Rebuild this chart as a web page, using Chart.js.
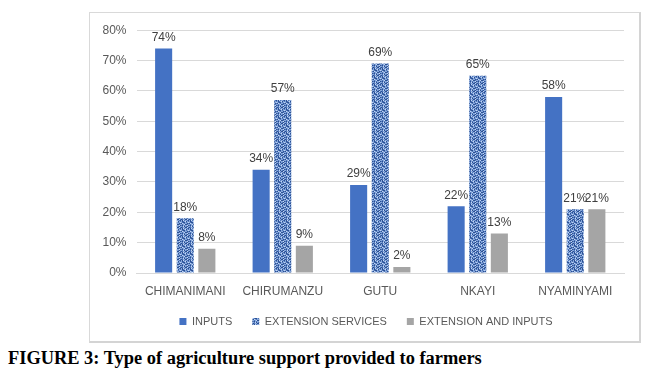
<!DOCTYPE html>
<html>
<head>
<meta charset="utf-8">
<script src="https://cdn.jsdelivr.net/npm/chart.js@4/dist/chart.umd.min.js"></script>
<style>
  html, body { margin: 0; padding: 0; background: #fff; width: 656px; height: 386px; overflow: hidden; }
  #frame { position: absolute; left: 89px; top: 12px; width: 552px; height: 331px;
           border-left: 1px solid #d9d9d9; border-top: 1px solid #d9d9d9;
           border-right: 2px solid #d4d4d4; border-bottom: 2px solid #d4d4d4; box-sizing: border-box; }
  #wrap { position: absolute; left: 0; top: 0; width: 549px; height: 328px; }
  #caption { position: absolute; left: 8px; top: 348px; font-family: "Liberation Serif", "Times New Roman", serif;
             font-weight: bold; font-size: 18.4px; color: #000; white-space: nowrap; }
</style>
</head>
<body>
<div id="frame"><div id="wrap"><canvas id="c"></canvas></div></div>
<div id="caption">FIGURE 3: Type of agriculture support provided to farmers</div>
<script>
const categories = ["CHIMANIMANI", "CHIRUMANZU", "GUTU", "NKAYI", "NYAMINYAMI"];
const seriesNames = ["INPUTS", "EXTENSION SERVICES", "EXTENSION AND INPUTS"];
const inputs = [74, 34, 29, 22, 58];
const extensionServices = [18, 57, 69, 65, 21];
const extensionAndInputs = [8, 9, 2, 13, 21];
const yTicks = [0, 10, 20, 30, 40, 50, 60, 70, 80];

// woven texture pattern for EXTENSION SERVICES
function makePattern() {
  const map = [
    "abcbacbd",
    "cbdbcaab",
    "bacadbcb",
    "acbbcbda",
    "bdacabcb",
    "cabbcdab",
    "adcacbba",
    "bcabadcb"
  ];
  const cols = { a: "#2b4f91", b: "#86a8dc", c: "#4f76bb", d: "#c4d6f2" };
  const pc = document.createElement("canvas");
  pc.width = 8; pc.height = 8;
  const g = pc.getContext("2d");
  for (let y = 0; y < 8; y++) for (let x = 0; x < 8; x++) {
    g.fillStyle = cols[map[y][x]];
    g.fillRect(x, y, 1, 1);
  }
  return g.createPattern(pc, "repeat");
}
const ctx = document.getElementById("c").getContext("2d");
const pattern = makePattern();

const labelPlugin = {
  id: "valueLabels",
  beforeDraw(chart) {
    if (chart.legend && !chart.legend._shifted) {
      chart.legend.left += 9;
      chart.legend.right += 9;
      chart.legend._shifted = true;
    }
  },
  afterLayout(chart) {
    if (chart.legend) chart.legend._shifted = false;
  },
  afterDatasetsDraw(chart) {
    const c = chart.ctx;
    c.save();
    c.font = '12px "Liberation Sans", Arial, sans-serif';
    c.fillStyle = "#404040";
    c.textAlign = "center";
    c.textBaseline = "bottom";
    chart.data.datasets.forEach((ds, i) => {
      const meta = chart.getDatasetMeta(i);
      meta.data.forEach((bar, j) => {
        c.fillText(ds.data[j] + "%", bar.x, bar.y - 5);
      });
    });
    c.restore();
  }
};

new Chart(ctx, {
  type: "bar",
  data: {
    labels: categories,
    datasets: [
      { label: seriesNames[0], data: inputs, backgroundColor: "#4472c4" },
      { label: seriesNames[1], data: extensionServices, backgroundColor: pattern },
      { label: seriesNames[2], data: extensionAndInputs, backgroundColor: "#a5a5a5" }
    ]
  },
  options: {
    responsive: true,
    maintainAspectRatio: false,
    animation: false,
    devicePixelRatio: 1,
    categoryPercentage: 0.665,
    barPercentage: 0.79,
    layout: { padding: { left: 0, right: 15, top: 11, bottom: 4 } },
    plugins: {
      legend: {
        position: "bottom",
        labels: {
          boxWidth: 7, boxHeight: 7, padding: 20,
          color: "#595959",
          font: { family: '"Liberation Sans", Arial, sans-serif', size: 11 }
        }
      },
      tooltip: { enabled: false }
    },
    scales: {
      x: {
        grid: { display: false, drawTicks: false },
        border: { color: "#d9d9d9" },
        afterFit(axis) { axis.height = 23; },
        ticks: { color: "#595959", font: { family: '"Liberation Sans", Arial, sans-serif', size: 12 }, padding: 11 }
      },
      y: {
        min: 0, max: 80,
        afterBuildTicks(axis) { axis.ticks = yTicks.map(v => ({ value: v })); },
        afterFit(axis) { axis.width = 46.5; },
        grid: { color: "#d9d9d9", drawTicks: false },
        border: { display: false },
        ticks: { color: "#595959", font: { family: '"Liberation Sans", Arial, sans-serif', size: 12 }, padding: 10,
                 callback: v => v + "%" }
      }
    }
  },
  plugins: [labelPlugin]
});
</script>
</body>
</html>
